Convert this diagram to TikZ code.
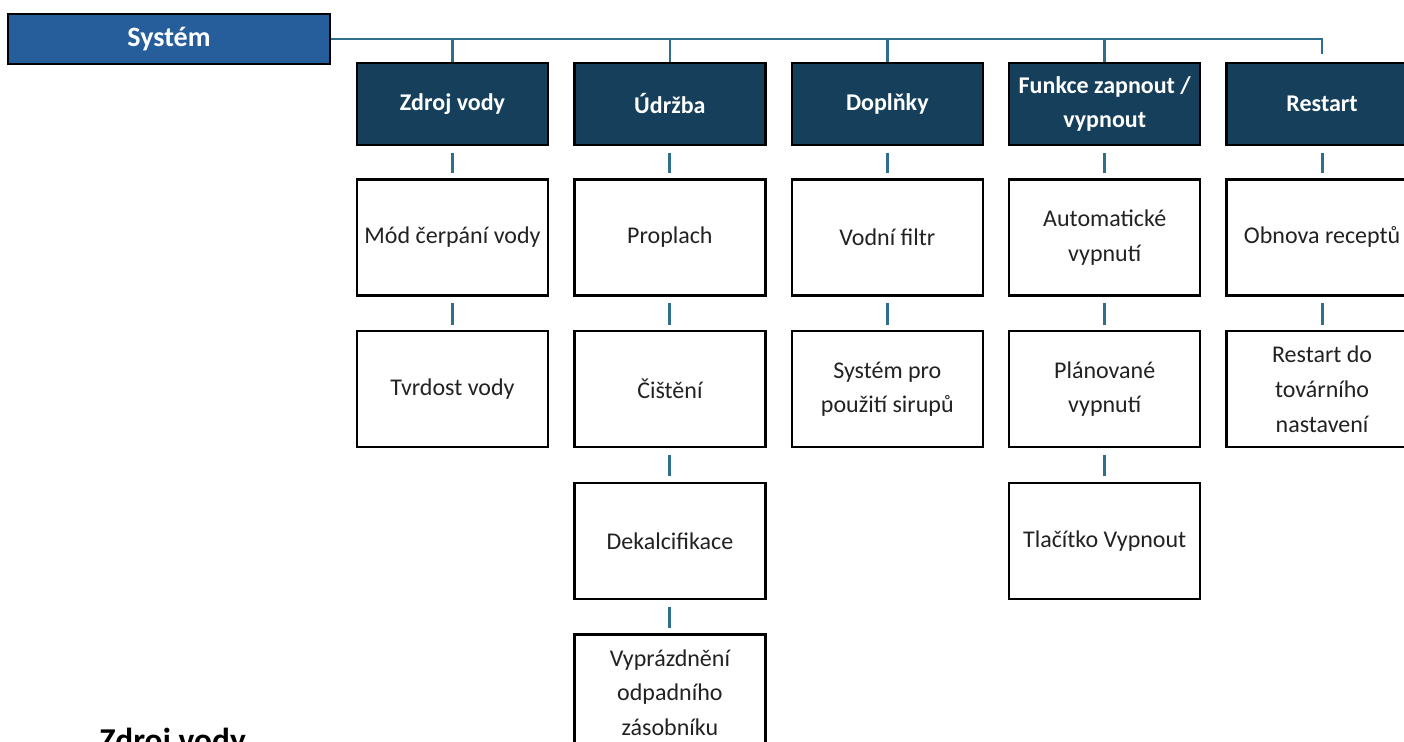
\documentclass[tikz,border=0pt]{standalone}
\usepackage{fontspec}
\setmainfont{Carlito}
\usepackage{xcolor}
\usepackage{tikz}
\usetikzlibrary{positioning}
\definecolor{sysblue}{RGB}{38, 94, 155}
\definecolor{hdrnavy}{RGB}{21, 63, 90}
\definecolor{linkteal}{RGB}{47, 110, 140}
\definecolor{inktext}{RGB}{34, 34, 34}
\tikzset{
  basebox/.style={
    rectangle, draw=black, line width=1.8pt,
    align=center, inner sep=2pt
  },
  sysbox/.style={basebox, fill=sysblue, text=white,
    font=\bfseries\fontsize{21}{25}\selectfont,
    minimum width=241.5pt, minimum height=37.5pt},
  headbox/.style={basebox, fill=hdrnavy, text=white,
    font=\bfseries\fontsize{18}{25}\selectfont,
    minimum width=143.25pt, minimum height=61.5pt},
  itembox/.style={basebox, fill=white, text=inktext,
    font=\fontsize{18}{26}\selectfont,
    minimum width=143.25pt, minimum height=87pt},
  busline/.style={draw=linkteal, line width=2pt},
  stub/.style={draw=linkteal, line width=2.2pt, shorten <=5pt, shorten >=4pt}
}

\begin{document}
\begin{tikzpicture}[x=0.75pt, y=-0.75pt, node distance=24pt and 18pt]

  \useasboundingbox (0,0) rectangle (1404,742);
  \clip (0,0) rectangle (1404,742);

  % Root
  \node[sysbox] (sys) at (169,39) {Systém};

  % Menu headers
  \node[headbox] (zdroj) at (452.5,104) {Zdroj vody};
  \node[headbox, right=of zdroj] (udrzba) {Údržba};
  \node[headbox, right=of udrzba] (doplnky) {Doplňky};
  \node[headbox, right=of doplnky] (funkce) {Funkce zapnout /\\vypnout};
  \node[headbox, right=of funkce] (restart) {Restart};

  % Zdroj vody
  \node[itembox, below=of zdroj] (cerpani) {Mód čerpání vody};
  \node[itembox, below=25pt of cerpani] (tvrdost) {Tvrdost vody};

  % Udrzba
  \node[itembox, below=of udrzba] (proplach) {Proplach};
  \node[itembox, below=25pt of proplach] (cisteni) {Čištění};
  \node[itembox, below=25pt of cisteni] (dekalc) {Dekalcifikace};
  \node[itembox, below=25pt of dekalc] (vyprazdneni) {Vyprázdnění\\odpadního\\zásobníku};

  % Doplnky
  \node[itembox, below=of doplnky] (filtr) {Vodní filtr};
  \node[itembox, below=25pt of filtr] (sirup) {Systém pro\\použití sirupů};

  % Funkce
  \node[itembox, below=of funkce] (autovyp) {Automatické\\vypnutí};
  \node[itembox, below=25pt of autovyp] (planvyp) {Plánované\\vypnutí};
  \node[itembox, below=25pt of planvyp] (tlacitko) {Tlačítko Vypnout};

  % Restart
  \node[itembox, below=of restart] (obnova) {Obnova receptů};
  \node[itembox, below=25pt of obnova] (tovarni) {Restart do\\továrního\\nastavení};

  % Section heading
  \node[anchor=base west, text=black, font=\bfseries\fontsize{25}{30}\selectfont] (heading) at (95,751) {Zdroj vody};

  % Bus
  \draw[busline, shorten >=6pt] (sys.east) -| (restart.north);
  \draw[busline] (zdroj.north |- sys.east) -- (zdroj.north);
  \draw[busline] (udrzba.north |- sys.east) -- (udrzba.north);
  \draw[busline] (doplnky.north |- sys.east) -- (doplnky.north);
  \draw[busline] (funkce.north |- sys.east) -- (funkce.north);

  % Stubs
  \draw[stub] (zdroj) -- (cerpani);
  \draw[stub] (cerpani) -- (tvrdost);
  \draw[stub] (udrzba) -- (proplach);
  \draw[stub] (proplach) -- (cisteni);
  \draw[stub] (cisteni) -- (dekalc);
  \draw[stub] (dekalc) -- (vyprazdneni);
  \draw[stub] (doplnky) -- (filtr);
  \draw[stub] (filtr) -- (sirup);
  \draw[stub] (funkce) -- (autovyp);
  \draw[stub] (autovyp) -- (planvyp);
  \draw[stub] (planvyp) -- (tlacitko);
  \draw[stub] (restart) -- (obnova);
  \draw[stub] (obnova) -- (tovarni);

\end{tikzpicture}
\end{document}
